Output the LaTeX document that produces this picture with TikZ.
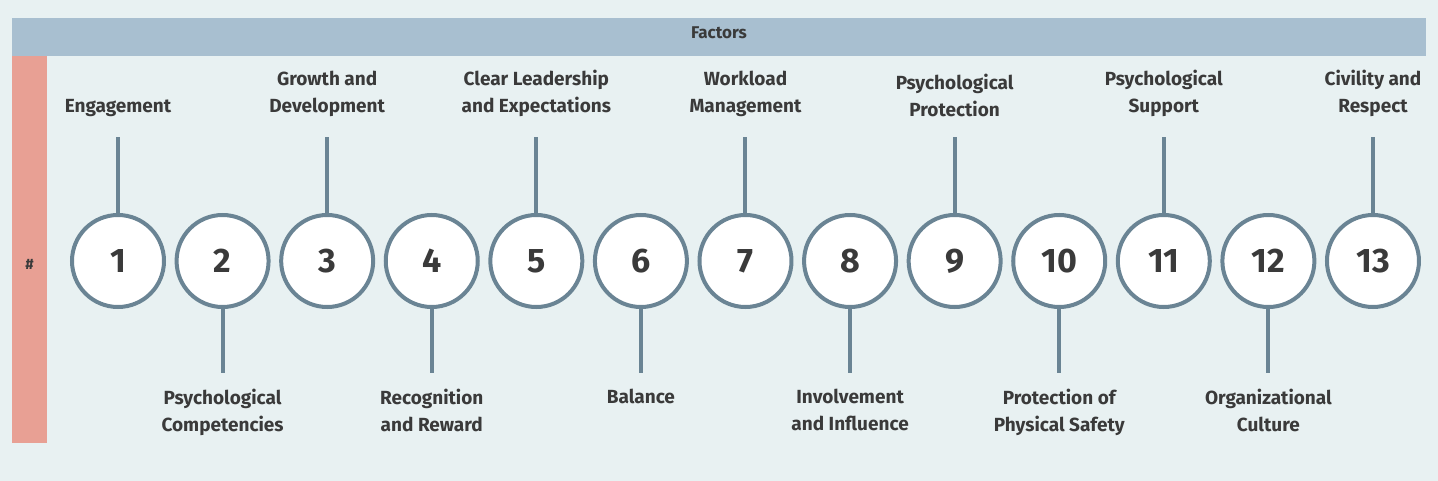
\documentclass[tikz,border=0pt]{standalone}
\usepackage{fontspec}
\setmainfont{Fira Sans}
\definecolor{bg}{HTML}{E8F1F2}
\definecolor{hdr}{HTML}{A8BFD0}
\definecolor{pink}{HTML}{E8A094}
\definecolor{ln}{HTML}{6A8494}
\definecolor{tx}{HTML}{3A3A3A}
\begin{document}
\begin{tikzpicture}[x=0.5pt,y=-0.5pt,
  num/.style={circle,draw=ln,line width=2pt,fill=white,minimum size=46pt,inner sep=0pt,font=\fontsize{17}{20}\selectfont\bfseries,text=tx},
  lab/.style={align=center,font=\fontsize{9.5}{13.5}\selectfont\bfseries,text=tx},
  stem/.style={draw=ln,line width=2pt}]
\useasboundingbox (0,0) rectangle (1438,481);
\fill[bg] (0,0) rectangle (1438,481);
\fill[hdr] (12,18) rectangle (1426,56);
\node[font=\fontsize{8.5}{10}\selectfont\bfseries,text=tx] (hd) at (719,33) {Factors};
\fill[pink] (12,56) rectangle (47,443);
\node[font=\fontsize{7.5}{9}\selectfont\bfseries,text=tx] (hash) at (29.5,264) {\#};
\foreach \i/\t/\up in {1/Engagement/1,2/Psychological\\Competencies/0,3/Growth and\\Development/1,4/Recognition\\and Reward/0,5/Clear Leadership\\and Expectations/1,6/Balance/0,7/Workload\\Management/1,8/Involvement\\and Influence/0,9/Psychological\\Protection/1,10/Protection of\\Physical Safety/0,11/Psychological\\Support/1,12/Organizational\\Culture/0,13/Civility and\\Respect/1}{
  \pgfmathsetmacro{\cx}{118+(\i-1)*104.58}
  \node[num] (c\i) at (\cx,261) {\i};
  \ifnum\up=1
    \coordinate (e\i) at (\cx,137);
    \draw[stem] (c\i.north) -- (e\i);
    \node[lab,anchor=south] (l\i) at (\cx,124) {\t};
  \else
    \coordinate (e\i) at (\cx,373);
    \draw[stem] (c\i.south) -- (e\i);
    \node[lab,anchor=north] (l\i) at (\cx,382) {\t};
  \fi
}
\end{tikzpicture}
\end{document}
